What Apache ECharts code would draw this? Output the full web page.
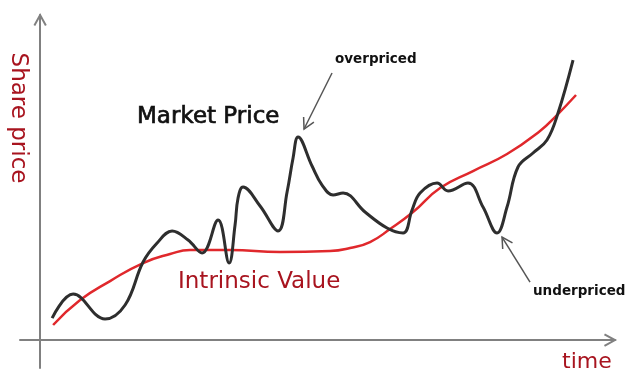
<!DOCTYPE html>
<html>
<head>
<meta charset="utf-8">
<script src="https://cdn.jsdelivr.net/npm/echarts@6/dist/echarts.min.js"></script>
<style>
html,body{margin:0;padding:0;background:#fff;}
#chart{width:640px;height:380px;}
</style>
</head>
<body>
<div id="chart"></div>
<script>
// Market price (time, price)
const marketTime  = [2.09,5.74,11.30,14.78,17.91,20.35,22.96,25.74,28.17,30.96,32.87,33.91,34.43,35.30,38.26,41.39,42.96,44.00,44.87,47.30,49.04,50.96,52.70,56.52,60.35,63.13,64.70,66.09,69.04,70.96,74.43,77.04,79.48,81.22,83.13,85.74,88.17,90.09,92.70];
const marketPrice = [6.77,14.15,6.46,10.77,24.0,29.85,33.54,30.77,26.77,36.92,23.69,35.38,43.69,47.08,41.23,33.54,45.54,56.0,62.46,53.54,47.69,44.62,45.23,39.38,34.46,32.92,40.0,45.23,48.31,45.85,48.31,40.92,32.92,40.92,53.23,57.54,61.54,69.85,86.15];
// Intrinsic value (time, value)
const valueTime  = [2.26,6.96,12.17,17.91,22.61,26.09,33.04,41.74,50.43,53.91,57.39,60.87,64.87,69.57,75.30,81.22,86.96,89.91,93.22];
const valueLevel = [4.62,12.31,18.15,23.69,26.46,27.69,27.69,27.08,27.38,28.31,30.15,34.15,39.38,46.77,52.0,57.23,64.31,69.23,75.38];
// Annotation arrows: [fromTime, fromPrice] -> [tipTime, tipPrice]
const arrowFrom = [[50.78,82.15],[85.22,17.85],[90,0],[0,90]];
const arrowTip  = [[45.91,64.92],[80.35,31.69],[100,0],[0,100]];
const arrowShaft = [1,1,0,0];
const arrowColor = ['#555','#555','#808080','#808080'];
const labels = {market:'Market Price', value:'Intrinsic Value', yName:'Share price', xName:'time', over:'overpriced', under:'underpriced'};

const FONT = '"DejaVu Sans"';
const RED_TEXT = '#a8141f';

const chart = echarts.init(document.getElementById('chart'));
const zip = (a,b) => a.map((v,i)=>[v,b[i]]);
const arrowData = arrowFrom.map((f,i)=>[f[0],f[1],arrowTip[i][0],arrowTip[i][1],arrowShaft[i],i]);

chart.setOption({
  animation:false,
  backgroundColor:'#fff',
  grid:{left:20,right:25,top:15,bottom:12},
  xAxis:{type:'value',min:-3.5,max:100,
    axisLine:{show:true,onZero:true,lineStyle:{color:'#808080',width:2}},
    axisTick:{show:false},axisLabel:{show:false},splitLine:{show:false}},
  yAxis:{type:'value',min:-8.6,max:100,
    axisLine:{show:true,onZero:true,lineStyle:{color:'#808080',width:2}},
    axisTick:{show:false},axisLabel:{show:false},splitLine:{show:false}},
  series:[
    {type:'line',name:labels.value,data:zip(valueTime,valueLevel),smooth:0.5,showSymbol:false,
      lineStyle:{color:'#e0282c',width:2.5},z:3},
    {type:'line',name:labels.market,data:zip(marketTime,marketPrice),smooth:0.4,showSymbol:false,
      lineStyle:{color:'#2e2e2e',width:3},z:4},
    {type:'custom',data:arrowData,z:5,silent:true,
      encode:{x:[0,2],y:[1,3]},
      renderItem:function(params,api){
        const p1 = api.coord([api.value(0),api.value(1)]);
        const p2 = api.coord([api.value(2),api.value(3)]);
        const idx = api.value(5);
        const color = arrowColor[idx];
        const w = idx<2?1.5:2;
        const a = Math.atan2(p2[1]-p1[1],p2[0]-p1[0]);
        const L = 12, s = 0.5;
        const h1 = [p2[0]-L*Math.cos(a-s), p2[1]-L*Math.sin(a-s)];
        const h2 = [p2[0]-L*Math.cos(a+s), p2[1]-L*Math.sin(a+s)];
        const children = [];
        if (api.value(4)) children.push({type:'polyline',shape:{points:[p1,p2]},style:{stroke:color,lineWidth:w,fill:null}});
        children.push({type:'polyline',shape:{points:[h1,p2,h2]},style:{stroke:color,lineWidth:w,fill:null}});
        return {type:'group',children:children};
      }}
  ],
  graphic:[
    {type:'text',x:137,y:117,style:{text:labels.market,font:'23px '+FONT,fill:'#111',stroke:'#111',lineWidth:0.7,verticalAlign:'middle'}},
    {type:'text',x:178,y:282,style:{text:labels.value,font:'23px '+FONT,fill:RED_TEXT,verticalAlign:'middle'}},
    {type:'text',x:18,y:118,rotation:-Math.PI/2,style:{text:labels.yName,font:'23px '+FONT,fill:RED_TEXT,align:'center',verticalAlign:'middle'}},
    {type:'text',x:562,y:362,style:{text:labels.xName,font:'22px '+FONT,fill:RED_TEXT,verticalAlign:'middle'}},
    {type:'text',x:335,y:59,style:{text:labels.over,font:'bold 13.5px '+FONT,fill:'#111',verticalAlign:'middle'}},
    {type:'text',x:533,y:291,style:{text:labels.under,font:'bold 13.5px '+FONT,fill:'#111',verticalAlign:'middle'}}
  ]
});
</script>
</body>
</html>
